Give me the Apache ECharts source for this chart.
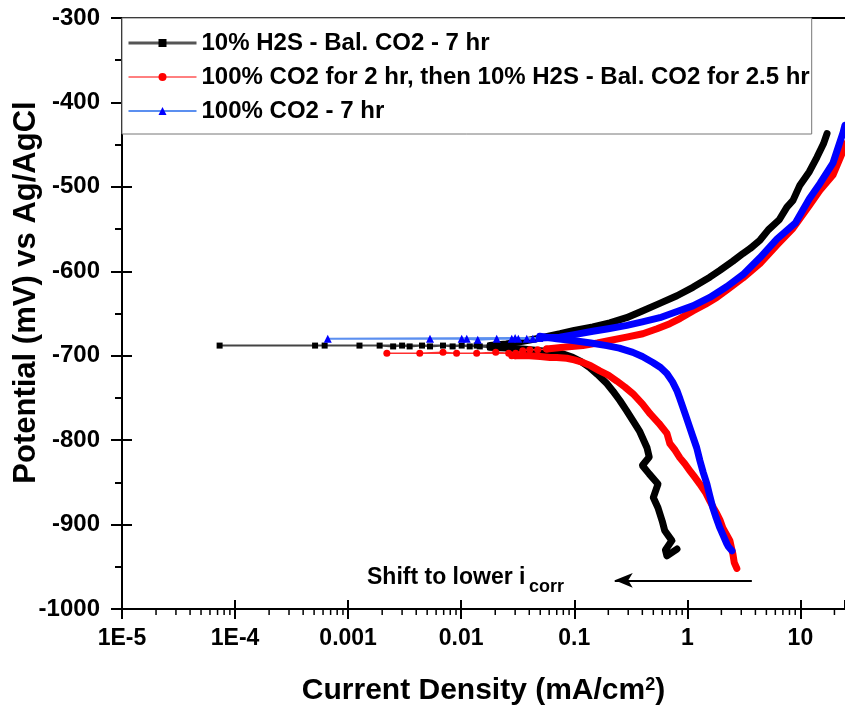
<!DOCTYPE html>
<html>
<head>
<meta charset="utf-8">
<script src="https://cdn.jsdelivr.net/npm/echarts@6/dist/echarts.min.js"></script>
<style>
html,body{margin:0;padding:0;background:#fff;}
#chart{width:845px;height:708px;}
</style>
</head>
<body>
<div id="chart"></div>
<script>
// ---------- names ----------
const nameH2S = '10% H2S - Bal. CO2 - 7 hr';
const nameMix = '100% CO2 for 2 hr, then 10% H2S - Bal. CO2 for 2.5 hr';
const nameCO2 = '100% CO2 - 7 hr';

// ---------- axis ticks ----------
const xTickValues = [1e-5, 1e-4, 1e-3, 1e-2, 1e-1, 1, 10];
const xTickLabels = ['1E-5', '1E-4', '0.001', '0.01', '0.1', '1', '10'];
const xMinorMultipliers = [2, 3, 4, 5, 6, 7, 8, 9];
const xMin = 1e-5, xMax = 24.8;
const yMin = -1000, yMax = -300, yInterval = 100;

// ---------- data: [current density mA/cm2, potential mV] ----------
// 10% H2S - Bal. CO2 - 7 hr
const h2sCathodic = [[0.81,-929],[0.66,-937],[0.64,-930],[0.73,-919],[0.63,-907],[0.60,-896],[0.55,-880],[0.50,-868],[0.55,-852],[0.46,-840],[0.40,-830],[0.46,-820],[0.44,-809],[0.38,-790],[0.33,-777],[0.29,-765],[0.253,-753],[0.22,-742],[0.194,-733],[0.16,-722],[0.137,-714],[0.115,-707],[0.097,-702],[0.08,-698],[0.07,-696],[0.05,-694],[0.035,-692],[0.025,-691],[0.018,-690]];
const h2sNearEcorr = [[0.018,-690],[0.0146,-689],[0.0137,-688],[0.0119,-689],[0.0101,-688],[0.0084,-689],[0.0069,-688],[0.0053,-689],[0.0045,-688],[0.0035,-689],[0.003,-688],[0.0025,-689],[0.0019,-688],[0.00126,-688],[0.00062,-688],[0.00051,-688],[0.000073,-688],[0.018,-688]];
const h2sAnodic = [[0.018,-688],[0.025,-686],[0.035,-683],[0.05,-679],[0.075,-674],[0.1,-670],[0.146,-666],[0.206,-661],[0.29,-655],[0.40,-647],[0.57,-638],[0.81,-629],[1.12,-619],[1.58,-607],[1.94,-599],[2.53,-588],[3.1,-579],[3.6,-573],[4.4,-563],[5.2,-551],[6.5,-539],[7.6,-524],[8.6,-516],[9.9,-498],[12,-482],[14,-465],[16,-449],[17.2,-437]];

// 100% CO2 for 2 hr, then 10% H2S - Bal. CO2 for 2.5 hr
const mixCathodic = [[2.74,-952],[2.6,-945],[2.53,-935],[2.45,-927],[2.38,-919],[2.2,-911],[2.06,-904],[1.95,-895],[1.82,-887],[1.7,-880],[1.58,-872],[1.45,-862],[1.29,-852],[1.15,-843],[1.05,-836],[0.95,-828],[0.86,-821],[0.78,-812],[0.70,-804],[0.66,-792],[0.56,-780],[0.47,-769],[0.40,-757],[0.33,-745],[0.28,-737],[0.238,-730],[0.2,-723],[0.168,-718],[0.14,-712],[0.119,-708],[0.1,-705],[0.086,-703],[0.07,-702],[0.061,-702],[0.05,-701],[0.04,-700],[0.03,-700]];
const mixNearEcorr = [[0.03,-700],[0.028,-700],[0.0263,-697],[0.0202,-696],[0.0137,-697],[0.0091,-697],[0.0069,-696],[0.0043,-697],[0.0022,-697],[0.0303,-697],[0.035,-694],[0.0404,-693],[0.0475,-693],[0.057,-692]];
const mixAnodic = [[0.057,-692],[0.08,-690],[0.119,-688],[0.16,-685],[0.206,-682],[0.29,-678],[0.404,-674],[0.54,-668],[0.70,-662],[0.86,-656],[1.12,-647],[1.45,-639],[1.82,-631],[2.24,-622],[3.1,-608],[4.38,-591],[6.19,-569],[8.6,-549],[12,-522],[14.9,-504],[19.4,-486],[23.8,-458],[24.8,-449]];

// 100% CO2 - 7 hr
const co2Cathodic = [[2.48,-931],[2.3,-926],[2.24,-923],[2.06,-912],[1.94,-904],[1.8,-892],[1.68,-880],[1.58,-866],[1.49,-852],[1.38,-838],[1.29,-824],[1.21,-809],[1.12,-796],[1.05,-785],[0.98,-773],[0.912,-761],[0.86,-751],[0.807,-741],[0.74,-731],[0.659,-721],[0.58,-714],[0.495,-708],[0.4,-701],[0.33,-696],[0.25,-691],[0.194,-688],[0.14,-685],[0.097,-682],[0.07,-680],[0.0495,-677]];
const co2NearEcorr = [[0.049,-679],[0.043,-680],[0.038,-680],[0.032,-680],[0.028,-680],[0.0206,-680],[0.014,-681],[0.0112,-680],[0.0101,-680],[0.0053,-680],[0.00066,-680],[0.03,-679],[0.049,-679]];
const co2Anodic = [[0.049,-679],[0.0745,-678],[0.1,-675],[0.146,-671],[0.2,-668],[0.292,-664],[0.4,-660],[0.571,-655],[0.8,-648],[1.12,-641],[1.58,-631],[2.24,-618],[3.1,-604],[4.38,-584],[6.19,-562],[9.0,-543],[12,-514],[14.9,-496],[19.4,-472],[21,-458],[23.8,-436],[24.8,-427]];

// annotation arrow (data coords)
const arrowStart = [3.72, -966];
const arrowEnd = [0.228, -966];

// ---------- build ----------
const FONT = '"Liberation Sans", Arial, sans-serif';
const minorTickData = [];
for (let d = -5; d <= 1; d++) {
  xMinorMultipliers.forEach(m => {
    const v = m * Math.pow(10, d);
    if (v > xMin && v < xMax) minorTickData.push([v, yMin]);
  });
}

function xLabel(v) {
  for (let i = 0; i < xTickValues.length; i++) {
    if (Math.abs(Math.log10(v) - Math.log10(xTickValues[i])) < 1e-6) return xTickLabels[i];
  }
  return '';
}

function sparse(name, data, lineColor, lineWidth, symbol, symbolSize, color) {
  return {
    name, type: 'line', data, symbol, symbolSize, showSymbol: true,
    lineStyle: { color: lineColor, width: lineWidth },
    itemStyle: { color: color, borderWidth: 0 },
    silent: true, animation: false, clip: true
  };
}
function dense(name, data, color, width) {
  return {
    name, type: 'line', data, showSymbol: false, symbol: 'none',
    lineStyle: { color, width, cap: 'round', join: 'round' },
    itemStyle: { color },
    silent: true, animation: false, clip: true
  };
}

const chart = echarts.init(document.getElementById('chart'), null, { renderer: 'canvas' });

const option = {
  backgroundColor: '#fff',
  animation: false,
  grid: { left: 122, right: 0, top: 18, bottom: 99, containLabel: false, outerBoundsMode: 'none' },
  legend: {
    orient: 'vertical',
    left: 122, top: 18,
    padding: [13, 2, 11, 5],
    itemGap: 10,
    itemWidth: 68, itemHeight: 10,
    backgroundColor: '#fff',
    borderColor: '#777', borderWidth: 1,
    selectedMode: false,
    textStyle: { fontFamily: FONT, fontWeight: 'bold', fontSize: 24, color: '#000', lineHeight: 24 },
    data: [
      { name: nameH2S, itemStyle: { color: '#000' }, lineStyle: { color: '#555', width: 3 } },
      { name: nameMix, itemStyle: { color: '#ff0000' }, lineStyle: { color: '#ff0000', width: 1 } },
      { name: nameCO2, itemStyle: { color: '#0000ff' }, lineStyle: { color: '#5b8ff0', width: 2 } }
    ]
  },
  xAxis: [
    {
      type: 'log', logBase: 10, min: xMin, max: xMax, position: 'bottom',
      name: 'Current Density (mA/cm{sup|2})', nameLocation: 'middle', nameGap: 67, nameMoveOverlap: false,
      nameTextStyle: {
        fontFamily: FONT, fontWeight: 'bold', fontSize: 30, color: '#000',
        rich: { sup: { fontFamily: FONT, fontWeight: 'bold', fontSize: 18, color: '#000', verticalAlign: 'top', lineHeight: 18 } }
      },
      axisLine: { show: true, lineStyle: { color: '#000', width: 2 } },
      axisTick: { show: true, inside: false, length: 10, lineStyle: { color: '#000', width: 2 } },
      axisLabel: { show: true, margin: 18, formatter: xLabel, fontFamily: FONT, fontWeight: 'bold', fontSize: 23, color: '#000', showMaxLabel: false },
      splitLine: { show: false }
    },
    {
      type: 'log', logBase: 10, min: xMin, max: xMax, position: 'top',
      axisLine: { show: true, lineStyle: { color: '#000', width: 2 } },
      axisTick: { show: false }, axisLabel: { show: false }, splitLine: { show: false }
    },
    {
      type: 'log', logBase: 10, min: xMin, max: xMax, position: 'bottom',
      axisLine: { show: false },
      axisTick: { show: true, inside: true, length: 9, lineStyle: { color: '#000', width: 2 } },
      axisLabel: { show: false }, splitLine: { show: false }
    }
  ],
  yAxis: [
    {
      type: 'value', min: yMin, max: yMax, interval: yInterval, position: 'left',
      name: 'Potential (mV) vs Ag/AgCl', nameLocation: 'middle', nameGap: 80, nameMoveOverlap: false,
      nameTextStyle: { fontFamily: FONT, fontWeight: 'bold', fontSize: 31, color: '#000', padding: [0, 0, 0, 42] },
      axisLine: { show: true, lineStyle: { color: '#000', width: 2 } },
      axisTick: { show: true, inside: false, length: 11, lineStyle: { color: '#000', width: 2 } },
      minorTick: { show: true, splitNumber: 2, length: 7, lineStyle: { color: '#000', width: 2 } },
      axisLabel: { show: true, margin: 22, formatter: v => String(v), fontFamily: FONT, fontWeight: 'bold', fontSize: 24, color: '#000' },
      splitLine: { show: false }
    },
    {
      type: 'value', min: yMin, max: yMax, interval: yInterval, position: 'left',
      axisLine: { show: false },
      axisTick: { show: true, inside: true, length: 10, lineStyle: { color: '#000', width: 2 } },
      axisLabel: { show: false }, splitLine: { show: false }
    }
  ],
  graphic: [
    { type: 'text', left: 367, top: 566, silent: true,
      style: { text: 'Shift to lower i', fontFamily: FONT, fontWeight: 'bold', fontSize: 23, fill: '#000' } },
    { type: 'text', left: 529, top: 578, silent: true,
      style: { text: 'corr', fontFamily: FONT, fontWeight: 'bold', fontSize: 18, fill: '#000' } }
  ],
  series: [
    sparse(nameH2S, h2sNearEcorr, '#444', 2, 'rect', 6, '#000'),
    dense(nameH2S, h2sCathodic, '#000', 7),
    dense(nameH2S, h2sAnodic, '#000', 7),
    sparse(nameMix, mixNearEcorr, '#ff3030', 1.5, 'circle', 7, '#ff0000'),
    dense(nameMix, mixCathodic, '#ff0000', 7),
    dense(nameMix, mixAnodic, '#ff0000', 7),
    sparse(nameCO2, co2NearEcorr, '#5b8ff0', 2, 'triangle', 8, '#0000ff'),
    dense(nameCO2, co2Cathodic, '#0000ff', 7),
    dense(nameCO2, co2Anodic, '#0000ff', 7),
    {
      name: 'arrow', type: 'line', data: [], silent: true,
      markLine: {
        silent: true, animation: false,
        symbol: ['none', 'arrow'],
        label: { show: false },
        lineStyle: { color: '#000', width: 2, type: 'solid' },
        data: [[
          { coord: arrowStart, symbol: 'none' },
          { coord: arrowEnd, symbol: 'arrow', symbolSize: [11, 18] }
        ]]
      }
    },
    {
      name: 'minorTicks', type: 'custom', data: minorTickData, silent: true, clip: false,
      renderItem: function (params, api) {
        const p = api.coord([api.value(0), api.value(1)]);
        return { type: 'line', shape: { x1: p[0], y1: p[1], x2: p[0], y2: p[1] + 6 },
          style: { stroke: '#000', lineWidth: 1.5 } };
      }
    }
  ]
};
chart.setOption(option);
</script>
</body>
</html>
